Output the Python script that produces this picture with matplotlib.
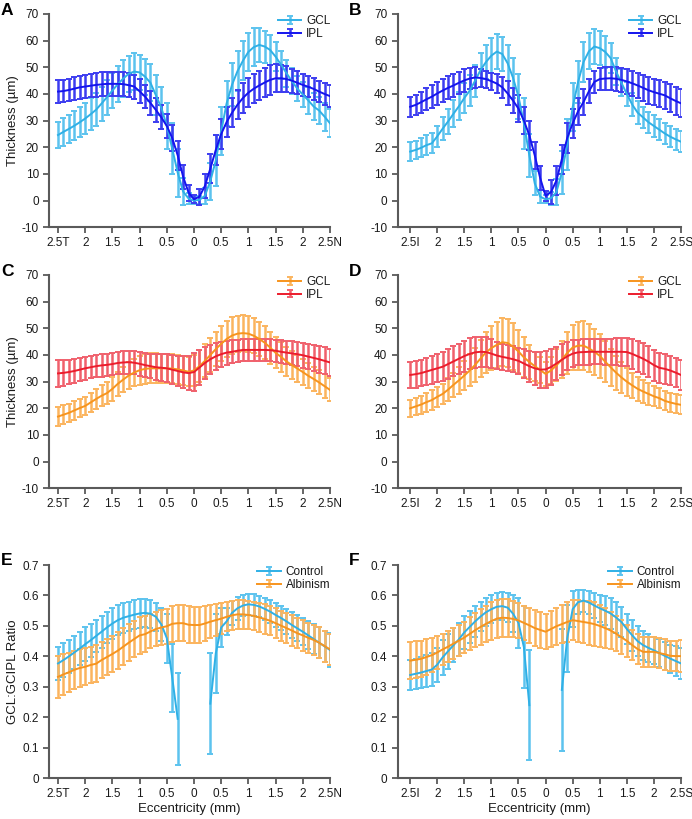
import numpy as np
import matplotlib
matplotlib.use("Agg")
import matplotlib.pyplot as plt
from matplotlib.container import ErrorbarContainer
from matplotlib.legend_handler import HandlerErrorbar

plt.rcParams['font.family'] = ['Liberation Sans', 'DejaVu Sans']

# eccentricity positions (mm), 0.1 mm steps
ecc = np.round(np.arange(-2.5, 2.51, 0.1), 2)
nan = np.nan

# Panel A (temporal - nasal), control
a_gcl = [24.6, 25.8, 26.9, 28.1, 29.4, 30.8, 32.4, 34.1, 36.4, 38.8, 41.3,
         43.7, 45.8, 47.6, 48.4, 48.1, 46.5, 44.2, 39.5, 34.8,
         28.0, 19.5, 10.5, 3.4, 0.8, 0.0, 0.3, 1.8, 7.3, 15.0, 26.0,
         36.5, 43.5, 48.6, 52.5, 55.8, 57.6, 58.4, 57.8, 56.5, 54.0,
         51.0, 47.8, 44.8, 42.0, 39.8, 37.6, 35.3, 33.8, 31.5, 29.0]
a_gcl_err = [5.0, 5.2, 5.3, 5.5, 5.6, 5.8, 6.0, 6.2, 6.4, 6.5, 6.6,
             6.7, 6.8, 6.8, 6.8, 6.7, 6.8, 7.0, 7.5, 8.0,
             8.5, 9.5, 9.0, 5.0, 2.0, 1.2, 1.5, 3.0, 7.0, 9.5, 9.0,
             8.5, 8.0, 7.5, 7.2, 7.0, 7.0, 6.5, 6.0, 5.8, 5.5,
             5.3, 5.0, 4.8, 4.8, 4.8, 5.0, 5.0, 5.2, 5.2, 5.2]
a_ipl = [40.9, 41.1, 41.5, 42.0, 42.5, 42.8, 43.1, 43.4, 43.6, 43.8, 43.8,
         43.8, 43.7, 43.3, 42.8, 41.0, 39.0, 36.6, 34.0, 31.2,
         28.0, 23.5, 17.0, 9.0, 3.0, 0.5, 1.5, 5.5, 12.0, 19.0, 25.0,
         29.5, 33.0, 36.0, 38.5, 40.5, 42.0, 43.2, 44.3, 45.3, 45.9,
         45.9, 45.6, 45.0, 44.2, 43.4, 42.7, 41.9, 40.9, 40.0, 39.2]
a_ipl_err = [4.2, 4.2, 4.2, 4.3, 4.3, 4.4, 4.4, 4.5, 4.5, 4.5, 4.5,
             4.5, 4.5, 4.5, 4.5, 4.5, 4.4, 4.4, 4.5, 4.5,
             4.5, 5.0, 5.5, 4.5, 3.0, 1.5, 3.0, 4.5, 5.5, 5.5, 5.5,
             5.5, 5.5, 5.5, 5.5, 5.5, 5.5, 5.5, 5.5, 5.5, 5.3,
             5.0, 4.8, 4.5, 4.3, 4.2, 4.0, 4.0, 4.0, 4.0, 4.0]

# Panel B (inferior - superior), control
b_gcl = [18.4, 19.0, 19.8, 20.8, 21.5, 24.1, 27.0, 29.7, 32.6, 35.4, 38.5,
         41.3, 45.0, 49.0, 52.0, 54.4, 55.9, 55.0, 51.5, 46.0,
         39.0, 29.0, 17.0, 6.5, 1.5, 0.5, 0.9, 3.2, 10.5, 21.0, 35.0,
         44.5, 52.0, 56.0, 57.8, 57.2, 55.8, 53.5, 48.5, 44.2, 40.0,
         36.0, 33.0, 31.2, 29.4, 28.0, 26.6, 25.2, 24.0, 23.0, 22.1]
b_gcl_err = [3.5, 3.5, 3.6, 3.7, 3.8, 4.0, 4.3, 4.6, 5.0, 5.3, 5.6,
             5.8, 6.0, 6.3, 6.5, 6.6, 6.7, 6.5, 6.8, 7.5,
             8.5, 9.5, 8.0, 4.5, 2.5, 1.5, 2.5, 5.0, 8.0, 9.5, 9.0,
             8.0, 7.5, 6.8, 6.5, 6.5, 6.0, 5.5, 5.0, 5.0, 4.5,
             4.2, 4.2, 4.0, 4.0, 4.0, 4.0, 4.0, 4.0, 4.0, 4.0]
b_ipl = [35.2, 35.9, 36.9, 38.0, 39.0, 40.2, 41.3, 42.3, 43.2, 44.2, 45.1,
         45.8, 46.2, 46.0, 45.6, 44.8, 43.9, 42.5, 40.2, 37.5,
         34.5, 30.0, 24.5, 17.0, 8.5, 1.8, 3.2, 7.5, 15.5, 23.5, 29.0,
         33.5, 37.0, 41.0, 44.5, 45.6, 45.8, 45.9, 45.7, 45.3, 44.7,
         44.0, 43.2, 42.3, 41.4, 40.7, 40.1, 39.5, 38.4, 37.4, 36.5]
b_ipl_err = [3.8, 3.9, 4.0, 4.1, 4.2, 4.2, 4.3, 4.3, 4.3, 4.2, 4.2,
             4.0, 3.8, 3.5, 3.2, 3.2, 3.5, 4.0, 4.5, 4.8,
             5.0, 5.0, 5.5, 5.0, 4.5, 2.0, 4.5, 5.5, 5.5, 5.5, 5.5,
             5.0, 4.8, 4.5, 4.2, 4.0, 4.2, 4.3, 4.4, 4.5, 4.6,
             4.7, 4.8, 4.9, 5.0, 5.0, 5.1, 5.1, 5.2, 5.2, 5.3]

# Panel C (temporal - nasal), albinism
c_gcl = [16.9, 17.6, 18.3, 19.2, 20.1, 20.9, 22.2, 23.5, 24.7, 25.7, 27.3,
         29.2, 30.8, 32.3, 33.4, 34.3, 34.8, 35.0, 35.0, 35.0,
         35.0, 34.9, 34.6, 34.2, 33.7, 34.2, 35.8, 37.8, 40.0, 42.2, 44.2,
         46.0, 47.3, 48.0, 48.2, 48.0, 47.2, 46.0, 44.6, 42.8, 40.8,
         39.3, 37.6, 36.2, 34.9, 33.6, 32.2, 31.0, 29.7, 28.3, 26.9]
c_gcl_err = [3.7, 3.6, 3.5, 3.5, 3.5, 3.5, 3.6, 3.8, 4.0, 4.2, 4.4,
             4.6, 4.8, 5.0, 5.2, 5.4, 5.5, 5.6, 5.6, 5.5,
             5.5, 5.4, 5.3, 5.3, 5.5, 5.8, 6.0, 6.2, 6.3, 6.5, 6.6,
             6.7, 6.8, 6.8, 6.8, 6.7, 6.6, 6.4, 6.2, 6.0, 5.8,
             5.6, 5.4, 5.2, 5.0, 4.8, 4.7, 4.6, 4.5, 4.4, 4.3]
c_ipl = [33.1, 33.3, 33.6, 34.0, 34.5, 35.0, 35.4, 35.8, 36.1, 36.3, 36.6,
         37.0, 37.2, 37.3, 37.1, 36.7, 36.2, 35.8, 35.4, 35.2,
         35.0, 34.5, 34.0, 33.5, 33.2, 33.6, 35.3, 37.0, 38.4, 39.5, 40.3,
         40.9, 41.2, 41.6, 41.9, 41.9, 41.9, 41.9, 41.9, 41.8, 41.6,
         41.2, 40.9, 40.6, 40.3, 39.9, 39.4, 38.9, 38.4, 37.8, 37.2]
c_ipl_err = [5.0, 4.8, 4.6, 4.5, 4.4, 4.3, 4.2, 4.2, 4.2, 4.2, 4.2,
             4.3, 4.3, 4.3, 4.3, 4.4, 4.5, 4.6, 4.8, 5.0,
             5.2, 5.4, 5.6, 6.0, 6.5, 7.0, 6.5, 6.0, 5.5, 5.0, 4.7,
             4.5, 4.3, 4.2, 4.1, 4.0, 4.0, 4.0, 4.0, 4.1, 4.2,
             4.3, 4.4, 4.5, 4.6, 4.7, 4.8, 4.9, 5.0, 5.1, 5.2]

# Panel D (inferior - superior), albinism
d_gcl = [20.0, 20.7, 21.4, 22.3, 23.1, 24.3, 25.4, 27.0, 28.8, 30.5, 32.3,
         34.2, 36.3, 38.7, 41.0, 42.6, 43.8, 44.8, 44.5, 43.1,
         41.3, 39.1, 37.4, 35.8, 34.4, 32.9, 34.2, 36.1, 38.3, 40.8, 42.8,
         43.5, 43.5, 42.5, 41.2, 39.7, 37.5, 35.4, 33.4, 31.6, 30.0,
         28.6, 27.3, 26.3, 25.4, 24.5, 23.8, 22.8, 22.2, 21.7, 21.3]
d_gcl_err = [3.2, 3.3, 3.4, 3.5, 3.6, 3.7, 3.9, 4.2, 4.6, 5.0, 5.5,
             6.0, 6.5, 7.0, 7.6, 8.2, 8.7, 9.0, 9.0, 8.8,
             8.2, 7.5, 6.5, 5.5, 4.8, 4.5, 5.0, 6.0, 7.0, 8.0, 8.6,
             9.0, 9.2, 9.0, 8.6, 8.2, 7.6, 7.0, 6.4, 5.8, 5.2,
             4.8, 4.4, 4.2, 4.0, 3.8, 3.7, 3.6, 3.6, 3.6, 3.6]
d_ipl = [32.5, 32.8, 33.2, 33.8, 34.4, 35.0, 35.6, 36.6, 37.6, 38.6, 39.6,
         40.4, 41.0, 41.2, 41.1, 40.5, 39.8, 39.3, 38.9, 38.4,
         37.8, 36.8, 35.8, 35.0, 34.5, 34.6, 35.5, 36.8, 38.2, 39.5, 40.5,
         41.0, 41.1, 41.2, 41.2, 41.2, 41.2, 41.2, 41.2, 41.2, 41.1,
         40.4, 39.5, 38.6, 37.5, 36.2, 35.2, 34.8, 34.2, 33.4, 32.5]
d_ipl_err = [5.0, 5.0, 5.0, 5.1, 5.2, 5.3, 5.4, 5.5, 5.6, 5.7, 5.8,
             5.8, 5.8, 5.7, 5.6, 5.4, 5.2, 5.0, 4.8, 4.8,
             5.0, 5.3, 5.8, 6.3, 6.8, 7.0, 6.8, 6.3, 5.8, 5.3, 5.0,
             4.8, 4.8, 4.8, 4.7, 4.7, 4.8, 4.9, 5.0, 5.2, 5.4,
             5.6, 5.7, 5.8, 5.8, 5.8, 5.7, 5.6, 5.5, 5.5, 5.5]

# Panel E (temporal - nasal), GCL:GCIPL ratio
e_ctrl = [0.377, 0.388, 0.400, 0.413, 0.426, 0.440, 0.453, 0.467, 0.481, 0.495, 0.508,
          0.519, 0.527, 0.532, 0.537, 0.541, 0.543, 0.540, 0.530, 0.505,
          0.46, 0.33, 0.195, nan, nan, nan, nan, nan, 0.245, 0.41, 0.495,
          0.515, 0.543, 0.558, 0.567, 0.571, 0.569, 0.564, 0.556, 0.547, 0.536,
          0.526, 0.515, 0.503, 0.492, 0.481, 0.469, 0.457, 0.445, 0.433, 0.421]
e_ctrl_err = [0.055, 0.055, 0.055, 0.055, 0.055, 0.055, 0.054, 0.054, 0.053, 0.052, 0.051,
              0.050, 0.049, 0.048, 0.048, 0.047, 0.046, 0.046, 0.046, 0.055,
              0.08, 0.112, 0.15, nan, nan, nan, nan, nan, 0.165, 0.13, 0.065,
              0.045, 0.040, 0.038, 0.036, 0.035, 0.035, 0.035, 0.036, 0.037, 0.038,
              0.039, 0.040, 0.042, 0.043, 0.045, 0.046, 0.048, 0.050, 0.052, 0.055]
e_alb = [0.333, 0.341, 0.348, 0.356, 0.362, 0.366, 0.372, 0.376, 0.388, 0.398, 0.408,
         0.419, 0.432, 0.445, 0.457, 0.469, 0.473, 0.482, 0.490, 0.495,
         0.499, 0.507, 0.509, 0.509, 0.504, 0.503, 0.503, 0.508, 0.514, 0.519, 0.524,
         0.530, 0.535, 0.538, 0.538, 0.536, 0.533, 0.528, 0.523, 0.517, 0.509,
         0.501, 0.493, 0.485, 0.476, 0.469, 0.461, 0.454, 0.445, 0.434, 0.423]
e_alb_err = [0.068, 0.066, 0.064, 0.063, 0.062, 0.061, 0.060, 0.060, 0.060, 0.060, 0.060,
             0.060, 0.060, 0.060, 0.060, 0.060, 0.058, 0.056, 0.055, 0.056,
             0.058, 0.060, 0.060, 0.060, 0.060, 0.060, 0.060, 0.058, 0.055, 0.052, 0.050,
             0.048, 0.047, 0.047, 0.047, 0.047, 0.047, 0.047, 0.048, 0.048, 0.049,
             0.049, 0.050, 0.050, 0.050, 0.050, 0.050, 0.050, 0.051, 0.051, 0.052]

# Panel F (inferior - superior), GCL:GCIPL ratio
f_ctrl = [0.339, 0.343, 0.347, 0.352, 0.357, 0.373, 0.397, 0.417, 0.437, 0.456, 0.479,
          0.497, 0.515, 0.531, 0.545, 0.555, 0.563, 0.565, 0.560, 0.540,
          0.51, 0.43, 0.24, nan, nan, nan, nan, nan, 0.29, 0.46, 0.555,
          0.578, 0.583, 0.577, 0.567, 0.558, 0.550, 0.541, 0.528, 0.513, 0.490,
          0.469, 0.450, 0.437, 0.428, 0.420, 0.411, 0.402, 0.393, 0.385, 0.377]
f_ctrl_err = [0.048, 0.050, 0.052, 0.053, 0.055, 0.056, 0.057, 0.057, 0.056, 0.055, 0.054,
              0.052, 0.050, 0.048, 0.046, 0.045, 0.045, 0.045, 0.047, 0.060,
              0.083, 0.135, 0.18, nan, nan, nan, nan, nan, 0.20, 0.11, 0.06,
              0.040, 0.036, 0.038, 0.042, 0.045, 0.048, 0.050, 0.050, 0.050, 0.050,
              0.050, 0.050, 0.048, 0.046, 0.045, 0.045, 0.045, 0.046, 0.048, 0.050]
f_alb = [0.386, 0.389, 0.392, 0.398, 0.404, 0.413, 0.423, 0.432, 0.442, 0.452, 0.462,
         0.474, 0.486, 0.497, 0.507, 0.516, 0.524, 0.527, 0.526, 0.523,
         0.518, 0.510, 0.502, 0.493, 0.487, 0.481, 0.490, 0.499, 0.506, 0.513, 0.519,
         0.516, 0.513, 0.510, 0.506, 0.500, 0.493, 0.485, 0.475, 0.463, 0.451,
         0.437, 0.424, 0.415, 0.415, 0.415, 0.411, 0.407, 0.402, 0.401, 0.401]
f_alb_err = [0.060, 0.060, 0.060, 0.058, 0.056, 0.054, 0.052, 0.050, 0.050, 0.050, 0.052,
             0.054, 0.056, 0.058, 0.060, 0.061, 0.062, 0.062, 0.062, 0.060,
             0.058, 0.057, 0.057, 0.058, 0.058, 0.058, 0.058, 0.060, 0.062, 0.065, 0.066,
             0.068, 0.070, 0.072, 0.072, 0.070, 0.066, 0.062, 0.058, 0.055, 0.052,
             0.050, 0.050, 0.050, 0.050, 0.050, 0.050, 0.050, 0.050, 0.050, 0.052]

tn_labels = ['2.5T', '2', '1.5', '1', '0.5', '0', '0.5', '1', '1.5', '2', '2.5N']
is_labels = ['2.5I', '2', '1.5', '1', '0.5', '0', '0.5', '1', '1.5', '2', '2.5S']
thick_ticks = [-10, 0, 10, 20, 30, 40, 50, 60, 70]
ratio_ticks = [0, 0.1, 0.2, 0.3, 0.4, 0.5, 0.6, 0.7]
ratio_labels = ['0', '0.1', '0.2', '0.3', '0.4', '0.5', '0.6', '0.7']

# colours: (line, error bar)
light_blue = ('#2fb0e6', '#5cc3ee')
dark_blue = ('#1414ee', '#3c3cf0')
orange = ('#f7941d', '#fbb45e')
red = ('#ec1c2c', '#f0606c')

W, H = 692, 819
fig = plt.figure(figsize=(W / 100, H / 100), dpi=100)

spine_col = '#5a5a5a'


def make_ax(left_px, right_px, top_px, bottom_px):
    return fig.add_axes([left_px / W, 1 - bottom_px / H,
                         (right_px - left_px) / W, (bottom_px - top_px) / H])


def draw(ax, series, xticklabels, ylim, yticks, yticklabels, xleft):
    for (y, e, col, lab) in series:
        ax.errorbar(ecc, y, yerr=e, color=col[0], ecolor=col[1], lw=1.4,
                    elinewidth=1.8, capsize=2.2, capthick=1.4, label=lab)
    ax.set_xlim(xleft, 2.5)
    ax.set_ylim(*ylim)
    ax.set_xticks([-2.5, -2, -1.5, -1, -0.5, 0, 0.5, 1, 1.5, 2, 2.5])
    ax.set_xticklabels(xticklabels)
    ax.set_yticks(yticks)
    ax.set_yticklabels(yticklabels)
    for s in ['top', 'right']:
        ax.spines[s].set_visible(False)
    for s in ['left', 'bottom']:
        ax.spines[s].set_color(spine_col)
        ax.spines[s].set_linewidth(1.5)
    ax.tick_params(axis='both', colors=spine_col, width=1.3, length=4,
                   labelcolor='#1a1a1a', labelsize=8.5)
    ax.tick_params(axis='x', pad=3)
    leg = ax.legend(loc='upper right', frameon=False, fontsize=8.5,
                    handlelength=2.0, borderaxespad=0.0, labelspacing=0.05,
                    handletextpad=0.4, bbox_to_anchor=(1.018, 1.017),
                    handler_map={ErrorbarContainer: HandlerErrorbar(yerr_size=0.3)})
    for t in leg.get_texts():
        t.set_color('#1a1a1a')


xl_left = -2.66
xl_right = -2.73
thick_labels = [str(t) for t in thick_ticks]

ax_a = make_ax(49.3, 330, 14, 227.3)
draw(ax_a, [(a_gcl, a_gcl_err, light_blue, 'GCL'), (a_ipl, a_ipl_err, dark_blue, 'IPL')],
     tn_labels, (-10, 70), thick_ticks, thick_labels, xl_left)
ax_b = make_ax(397.7, 681, 14, 227.3)
draw(ax_b, [(b_gcl, b_gcl_err, light_blue, 'GCL'), (b_ipl, b_ipl_err, dark_blue, 'IPL')],
     is_labels, (-10, 70), thick_ticks, thick_labels, xl_right)
ax_c = make_ax(49.3, 330, 275, 488.3)
draw(ax_c, [(c_gcl, c_gcl_err, orange, 'GCL'), (c_ipl, c_ipl_err, red, 'IPL')],
     tn_labels, (-10, 70), thick_ticks, thick_labels, xl_left)
ax_d = make_ax(397.7, 681, 275, 488.3)
draw(ax_d, [(d_gcl, d_gcl_err, orange, 'GCL'), (d_ipl, d_ipl_err, red, 'IPL')],
     is_labels, (-10, 70), thick_ticks, thick_labels, xl_right)
ax_e = make_ax(49.3, 330, 565, 778.3)
draw(ax_e, [(e_ctrl, e_ctrl_err, light_blue, 'Control'), (e_alb, e_alb_err, orange, 'Albinism')],
     tn_labels, (0, 0.7), ratio_ticks, ratio_labels, xl_left)
ax_f = make_ax(397.7, 681, 565, 778.3)
draw(ax_f, [(f_ctrl, f_ctrl_err, light_blue, 'Control'), (f_alb, f_alb_err, orange, 'Albinism')],
     is_labels, (0, 0.7), ratio_ticks, ratio_labels, xl_right)

ylab_x = (6.5 - 49.3) / (330 - 49.3)
for ax in (ax_a, ax_c):
    ax.set_ylabel('Thickness (\u00b5m)', fontsize=9.5, color='#1a1a1a')
    ax.yaxis.set_label_coords(ylab_x, 0.5)
ax_e.set_ylabel('GCL:GCIPL Ratio', fontsize=9.5, color='#1a1a1a')
ax_e.yaxis.set_label_coords(ylab_x, 0.5)
for ax in (ax_a, ax_c, ax_e):
    ax.yaxis.label.set_verticalalignment('top')
for ax in (ax_e, ax_f):
    ax.set_xlabel('Eccentricity (mm)', fontsize=9.5, color='#1a1a1a', labelpad=2)

# panel letters
for letter, x, y in [('A', 1, 3), ('B', 349, 3), ('C', 1, 264), ('D', 349, 264),
                     ('E', 1, 553), ('F', 349, 553)]:
    fig.text(x / W, 1 - y / H, letter, fontsize=12.5, fontweight='bold',
             va='top', ha='left', color='black')

fig.savefig('out.png', dpi=100)
